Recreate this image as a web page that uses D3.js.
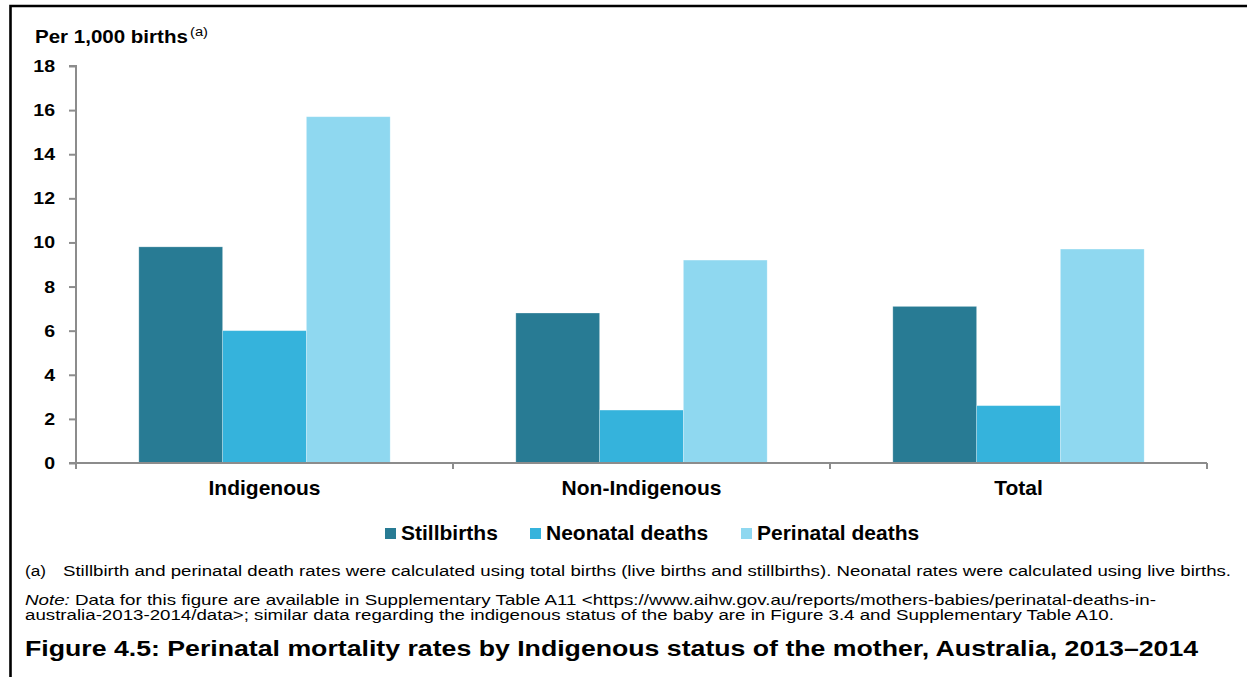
<!DOCTYPE html>
<html><head><meta charset="utf-8">
<script src="https://cdn.jsdelivr.net/npm/d3@7"></script>
<style>
body{margin:0;background:#fff;}
svg{display:block;font-family:Arial,"Liberation Sans",sans-serif;}
</style></head>
<body>
<script>
const categories = ["Indigenous", "Non-Indigenous", "Total"];
const seriesNames = ["Stillbirths", "Neonatal deaths", "Perinatal deaths"];
const stillbirths = [9.8, 6.8, 7.1];
const neonatal = [6.0, 2.4, 2.6];
const perinatal = [15.7, 9.2, 9.7];
const yTicks = [0, 2, 4, 6, 8, 10, 12, 14, 16, 18];
const colors = ["#287b94", "#35b3dc", "#8fd8f0"];

const series = [stillbirths, neonatal, perinatal];
const W = 1247, H = 677;
const svg = d3.select("body").append("svg").attr("width", W).attr("height", H);

// stretch a text element horizontally to a target width (anchored at its x)
function fitWidth(sel, target) {
  const node = sel.node();
  const w = node.getComputedTextLength();
  const x0 = +sel.attr("x"), y0 = +sel.attr("y");
  const s = target / w;
  sel.attr("x", 0).attr("y", 0).attr("transform", `translate(${x0},${y0}) scale(${s},1)`);
  return sel;
}

// frame
svg.append("path").attr("d", `M10.5,${H} L10.5,6 L${W},6`).attr("fill","none").attr("stroke","#000").attr("stroke-width",2.6);

const pLeft = 76, pRight = 1207, pTop = 66, pBottom = 463;
const x = d3.scaleBand().domain(categories).range([pLeft, pRight]).paddingInner(0).paddingOuter(0);
const x1 = d3.scaleBand().domain(seriesNames).range([0, x.bandwidth()]).paddingInner(0).paddingOuter(0.75);
const y = d3.scaleLinear().domain([0, 18]).range([pBottom, pTop]);

// bars
const g = svg.append("g");
categories.forEach((c, ci) => {
  seriesNames.forEach((s, si) => {
    g.append("rect")
      .attr("x", x(c) + x1(s))
      .attr("y", y(series[si][ci]))
      .attr("width", x1.bandwidth())
      .attr("height", y(0) - y(series[si][ci]))
      .attr("fill", colors[si])
      .attr("stroke", "rgba(255,255,255,0.3)")
      .attr("stroke-width", 0.8);
  });
});

// y axis
const yAxis = d3.axisLeft(y).tickValues(yTicks).tickSize(7).tickPadding(14).tickFormat(d3.format("d"));
const ya = svg.append("g").attr("transform", `translate(${pLeft},0)`).call(yAxis);
ya.select(".domain").attr("stroke", "#8c8c8c").attr("stroke-width", 2).attr("d", `M-7,${pTop}H0V${pBottom}`);
ya.selectAll(".tick line").attr("stroke", "#8c8c8c").attr("stroke-width", 2);
ya.selectAll(".tick text").attr("font-size", 17).attr("font-weight", "bold").attr("fill", "#000")
  .attr("font-family", "Arial,'Liberation Sans',sans-serif")
  .attr("transform", "scale(1.15,1)").attr("x", -21 / 1.15 + 0);
ya.selectAll(".tick text").each(function(){ const t = d3.select(this); t.attr("x", -21/1.15); });

// x axis
const xa = svg.append("g").attr("transform", `translate(0,${pBottom})`)
  .call(d3.axisBottom(x).tickSize(0).tickPadding(0));
xa.select(".domain").remove();
xa.selectAll(".tick text").attr("font-size", 21).attr("font-weight", "bold").attr("fill", "#000")
  .attr("font-family", "Arial,'Liberation Sans',sans-serif").attr("dy", null).attr("y", 32);
svg.append("line").attr("x1", pLeft - 7).attr("x2", pRight).attr("y1", pBottom).attr("y2", pBottom)
  .attr("stroke", "#8c8c8c").attr("stroke-width", 2);
const bounds = [pLeft, ...categories.map(c => x(c) + x.bandwidth())];
svg.selectAll(".xtick").data(bounds).enter().append("line")
  .attr("x1", d => d).attr("x2", d => d).attr("y1", pBottom).attr("y2", pBottom + 6)
  .attr("stroke", "#8c8c8c").attr("stroke-width", 2);

// y label
fitWidth(svg.append("text").attr("x", 35).attr("y", 43).attr("font-size", 19).attr("font-weight", "bold").text("Per 1,000 births"), 153);
fitWidth(svg.append("text").attr("x", 190).attr("y", 36).attr("font-size", 12).text("(a)"), 18);

// legend
const legendX = [385, 530, 741];
const lg = svg.append("g");
seriesNames.forEach((s, i) => {
  lg.append("rect").attr("x", legendX[i]).attr("y", 528).attr("width", 11).attr("height", 11).attr("fill", colors[i]);
  lg.append("text").attr("x", legendX[i] + 16).attr("y", 540).attr("font-size", 21).attr("font-weight", "bold").text(s);
});

// footnotes
fitWidth(svg.append("text").attr("x", 25).attr("y", 576).attr("font-size", 14.5).text("(a)"), 21);
fitWidth(svg.append("text").attr("x", 63).attr("y", 576).attr("font-size", 14.5)
  .text("Stillbirth and perinatal death rates were calculated using total births (live births and stillbirths). Neonatal rates were calculated using live births."), 1169);
const note = svg.append("text").attr("x", 25).attr("y", 605).attr("font-size", 14.5);
note.append("tspan").attr("font-style", "italic").text("Note:");
note.append("tspan").text(" Data for this figure are available in Supplementary Table A11 <https://www.aihw.gov.au/reports/mothers-babies/perinatal-deaths-in-");
fitWidth(note, 1132);
fitWidth(svg.append("text").attr("x", 25).attr("y", 620).attr("font-size", 14.5)
  .text("australia-2013-2014/data>; similar data regarding the indigenous status of the baby are in Figure 3.4 and Supplementary Table A10."), 1090);
fitWidth(svg.append("text").attr("x", 25).attr("y", 656).attr("font-size", 21.5).attr("font-weight", "bold")
  .text("Figure 4.5: Perinatal mortality rates by Indigenous status of the mother, Australia, 2013–2014"), 1174);
</script>
</body></html>
